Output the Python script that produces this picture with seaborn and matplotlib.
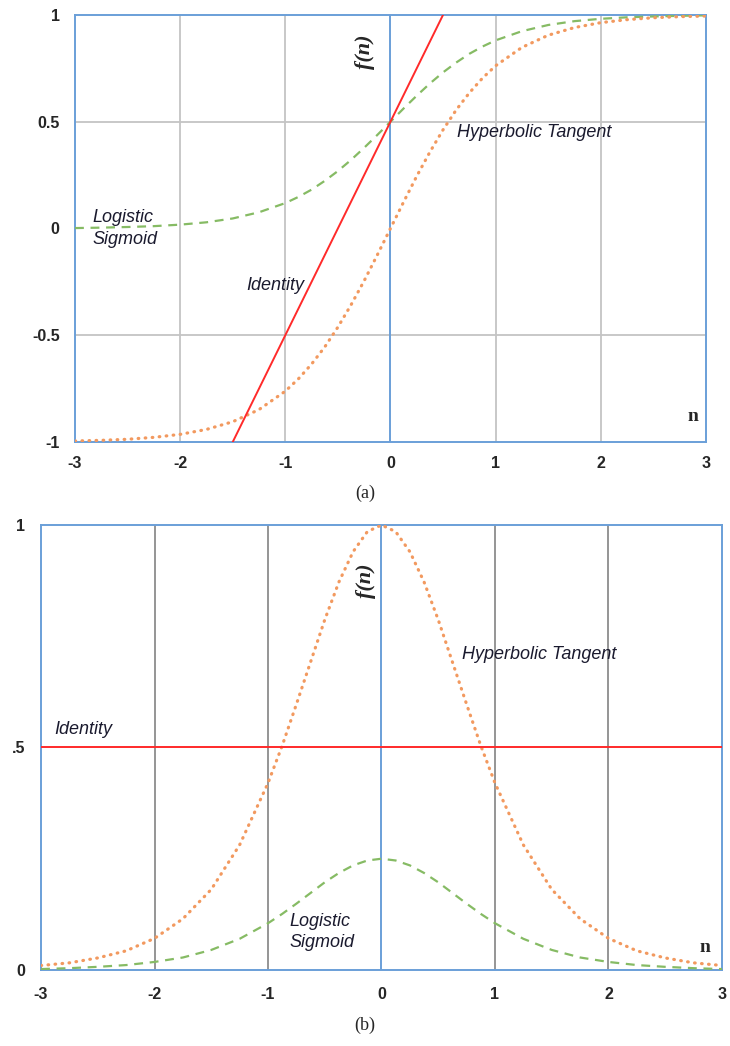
import numpy as np
import pandas as pd
import matplotlib
matplotlib.use("Agg")
import matplotlib.pyplot as plt
import seaborn as sns

# n values used for every curve (finer in the middle where the curves bend most)
n = [-3.0, -2.75, -2.5, -2.25, -2.0, -1.75, -1.5, -1.25, -1.0, -0.875, -0.75, -0.625, -0.5,
     -0.375, -0.25, -0.125, 0.0, 0.125, 0.25, 0.375, 0.5, 0.625, 0.75, 0.875, 1.0,
     1.25, 1.5, 1.75, 2.0, 2.25, 2.5, 2.75, 3.0]

# (a) activation functions
identity_a = [-2.5, -2.25, -2.0, -1.75, -1.5, -1.25, -1.0, -0.75, -0.5, -0.375, -0.25, -0.125, 0.0,
              0.125, 0.25, 0.375, 0.5, 0.625, 0.75, 0.875, 1.0, 1.125, 1.25, 1.375, 1.5,
              1.75, 2.0, 2.25, 2.5, 2.75, 3.0, 3.25, 3.5]
logistic_a = [0.002, 0.004, 0.007, 0.011, 0.018, 0.029, 0.047, 0.076, 0.119, 0.148, 0.182, 0.223, 0.269,
              0.321, 0.378, 0.438, 0.5, 0.562, 0.622, 0.679, 0.731, 0.777, 0.818, 0.852, 0.881,
              0.924, 0.953, 0.971, 0.982, 0.989, 0.993, 0.996, 0.998]
tanh_a = [-0.995, -0.992, -0.987, -0.978, -0.964, -0.941, -0.905, -0.848, -0.762, -0.704, -0.635, -0.555, -0.462,
          -0.358, -0.245, -0.124, 0.0, 0.124, 0.245, 0.358, 0.462, 0.555, 0.635, 0.704, 0.762,
          0.848, 0.905, 0.941, 0.964, 0.978, 0.987, 0.992, 0.995]

# (b) derivatives
identity_b = [0.5] * 33
logistic_b = [0.002, 0.004, 0.007, 0.011, 0.018, 0.028, 0.045, 0.070, 0.105, 0.126, 0.149, 0.173, 0.197,
              0.218, 0.235, 0.246, 0.25, 0.246, 0.235, 0.218, 0.197, 0.173, 0.149, 0.126, 0.105,
              0.070, 0.045, 0.028, 0.018, 0.011, 0.007, 0.004, 0.002]
tanh_b = [0.010, 0.016, 0.027, 0.043, 0.071, 0.115, 0.181, 0.281, 0.420, 0.504, 0.597, 0.692, 0.787,
          0.872, 0.940, 0.985, 1.0, 0.985, 0.940, 0.872, 0.787, 0.692, 0.597, 0.504, 0.420,
          0.281, 0.181, 0.115, 0.071, 0.043, 0.027, 0.016, 0.010]

xticks = [-3, -2, -1, 0, 1, 2, 3]
yticks_a = [-1, -0.5, 0, 0.5, 1]
yticklabels_a = ["-1", "-0.5", "0", "0.5", "1"]
yticks_b = [0, 0.5, 1]
yticklabels_b = ["0", ".5", "1"]

df_a = pd.DataFrame({"n": n, "identity": identity_a, "logistic": logistic_a, "tanh": tanh_a})
df_b = pd.DataFrame({"n": n, "identity": identity_b, "logistic": logistic_b, "tanh": tanh_b})

sns.set_style("white")
plt.rcParams['font.family'] = ['Liberation Sans', 'DejaVu Sans']

BLUE = "#6a9fd8"
RED = "#ff2a2a"
GREEN = "#86bb64"
ORANGE = "#f2995f"

fig = plt.figure(figsize=(7.30, 10.46), dpi=100)
ax1 = fig.add_axes([0.1027, 0.5774, 0.8643, 0.4083])
ax2 = fig.add_axes([0.0562, 0.0727, 0.9328, 0.4254])


def style_axes(ax, yticks, ylabels, grid_color, hgrid, ypad, xpad):
    ax.set_xlim(-3, 3)
    ax.set_xticks(xticks)
    ax.set_xticklabels([str(t) for t in xticks], fontweight="bold", fontsize=11.5)
    ax.set_yticks(yticks)
    ax.set_yticklabels(ylabels, fontweight="bold", fontsize=11.5)
    ax.tick_params(axis="y", length=0, pad=ypad)
    ax.tick_params(axis="x", length=0, pad=xpad)
    for t in [-2, -1, 1, 2]:
        ax.axvline(t, color=grid_color, lw=1.3, zorder=1)
    for h in hgrid:
        ax.axhline(h, color=grid_color, lw=1.3, zorder=1)
    ax.axvline(0, color=BLUE, lw=1.4, zorder=2)
    for s in ax.spines.values():
        s.set_color(BLUE)
        s.set_linewidth(1.4)
    ax.set_xlabel("")
    ax.set_ylabel("")


def draw_curves(ax, df):
    sns.lineplot(data=df, x="n", y="logistic", ax=ax, color=GREEN, lw=1.6,
                 linestyle=(0, (4, 3)), zorder=3)
    sns.lineplot(data=df, x="n", y="tanh", ax=ax, color=ORANGE, lw=2.3,
                 linestyle=(0, (0.2, 2.0)), dash_capstyle="round", zorder=4)
    sns.lineplot(data=df, x="n", y="identity", ax=ax, color=RED, lw=1.4, zorder=5)


lab = dict(fontsize=13, fontstyle="italic", color="#1a1a2e")
fn = dict(rotation=90, va="center", ha="center", fontsize=16, fontweight="bold",
          fontstyle="italic", family="Liberation Serif")
nl = dict(va="center", ha="center", fontsize=14, fontweight="bold", family="Liberation Serif")

# (a)
draw_curves(ax1, df_a)
ax1.set_ylim(-1, 1)
style_axes(ax1, yticks_a, yticklabels_a, "#c4c4c4", [-0.5, 0.5], 11, 10)
ax1.text(-2.83, 0.0, "Logistic\nSigmoid", va="center", ha="left", linespacing=1.35, **lab)
ax1.text(0.63, 0.45, "Hyperbolic Tangent", va="center", ha="left", **lab)
ax1.text(-1.37, -0.265, "Identity", va="center", ha="left", **lab)
ax1.text(-0.24, 0.83, "f(n)", **fn)
ax1.text(2.88, -0.88, "n", **nl)
fig.text(0.5, 1 - 493 / 1046, "(a)", ha="center", va="center", fontsize=13,
         family="Liberation Serif")

# (b)
draw_curves(ax2, df_b)
ax2.set_ylim(0, 1)
style_axes(ax2, yticks_b, yticklabels_b, "#8c8c8c", [], 11.5, 12)
ax2.text(-2.88, 0.54, "Identity", va="center", ha="left", **lab)
ax2.text(0.705, 0.708, "Hyperbolic Tangent", va="center", ha="left", **lab)
ax2.text(-0.81, 0.085, "Logistic\nSigmoid", va="center", ha="left", linespacing=1.35, **lab)
ax2.text(-0.14, 0.875, "f(n)", **fn)
ax2.text(2.85, 0.05, "n", **nl)
fig.text(0.5, 1 - 1025 / 1046, "(b)", ha="center", va="center", fontsize=13,
         family="Liberation Serif")

fig.savefig("out.png", dpi=100)
